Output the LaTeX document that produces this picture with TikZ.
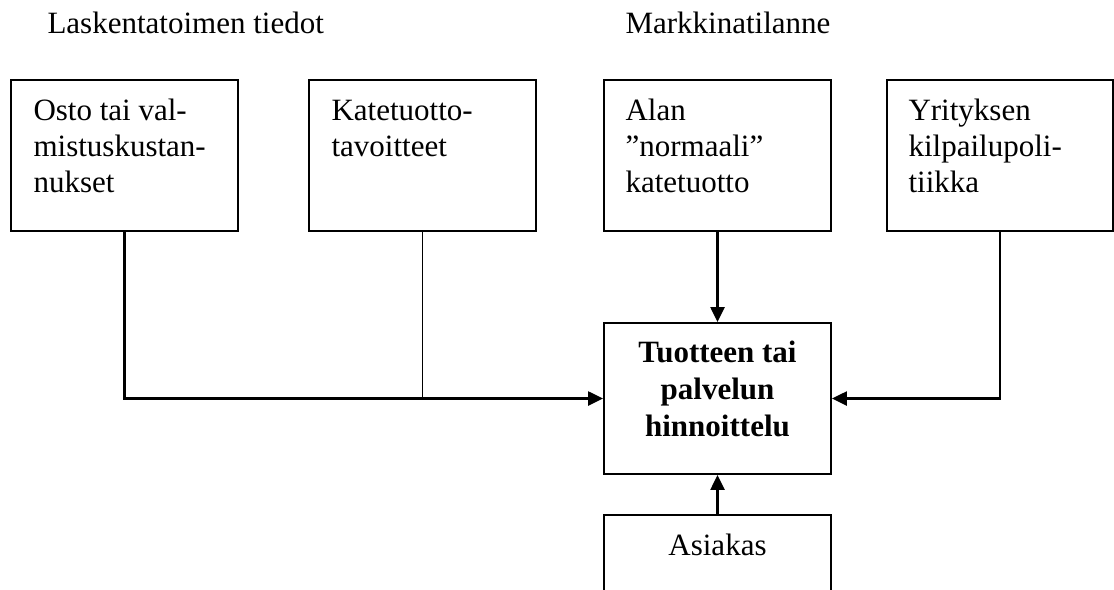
\documentclass[tikz,border=0pt]{standalone}
\usepackage{fontspec}
\setmainfont{Liberation Serif}
\usetikzlibrary{arrows.meta}
\newcommand\pxs{0.387}
\begin{document}
\begin{tikzpicture}[x=\pxs pt, y=-\pxs pt,
  box/.style={draw, line width=0.75pt, inner sep=0pt},
  bsize/.style 2 args={minimum width=#1*\pxs pt, minimum height=#2*\pxs pt},
  lbl/.style={inner sep=0pt, anchor=base west, font=\fontsize{12}{14.1}\selectfont},
  clbl/.style={inner sep=0pt, anchor=base, font=\fontsize{12}{14.4}\selectfont},
  conn/.style={line width=1pt},
  thinconn/.style={line width=0.75pt},
  arr/.style={conn, -{Triangle[length=5.8pt,width=5.4pt]}}]
\useasboundingbox (0,0) rectangle (1114,589);
\clip (0,0) rectangle (1114,589);

% titles
\node[lbl] (title1) at (47,33) {Laskentatoimen tiedot};
\node[lbl] (title2) at (625,33) {Markkinatilanne};

% boxes
\node[box, bsize={227}{151}] (b1) at (124.5,155.5) {};
\node[box, bsize={227}{151}] (b2) at (422.5,155.5) {};
\node[box, bsize={227}{151}] (b3) at (717.5,155.5) {};
\node[box, bsize={226}{151}] (b4) at (1000,155.5) {};
\node[box, bsize={227}{151}] (c) at (717.5,398.5) {};
\node[box, bsize={227}{105}] (a) at (717.5,567.5) {};

% texts
\node[lbl] (t1) at (33,120) {\begin{tabular}[t]{@{}l@{}}Osto tai val-\\mistuskustan-\\nukset\end{tabular}};
\node[lbl] (t2) at (331,120) {\begin{tabular}[t]{@{}l@{}}Katetuotto-\\tavoitteet\end{tabular}};
\node[lbl] (t3) at (625,120) {\begin{tabular}[t]{@{}l@{}}Alan\\”normaali”\\katetuotto\end{tabular}};
\node[lbl] (t4) at (908,120) {\begin{tabular}[t]{@{}l@{}}Yrityksen\\kilpailupoli-\\tiikka\end{tabular}};
\node[clbl] (tc) at (717.5,362) {\bfseries\begin{tabular}[t]{@{}c@{}}Tuotteen tai\\palvelun\\hinnoittelu\end{tabular}};
\node[clbl] (ta) at (717.5,555) {Asiakas};

% connectors
\draw[arr] (b1.south) |- (c.west);
\draw[thinconn] (b2.south) -- (b2.south |- c.west);
\draw[arr] (b3.south) -- (c.north);
\draw[arr] (b4.south) |- (c.east);
\draw[arr] (a.north) -- (c.south);
\end{tikzpicture}
\end{document}
